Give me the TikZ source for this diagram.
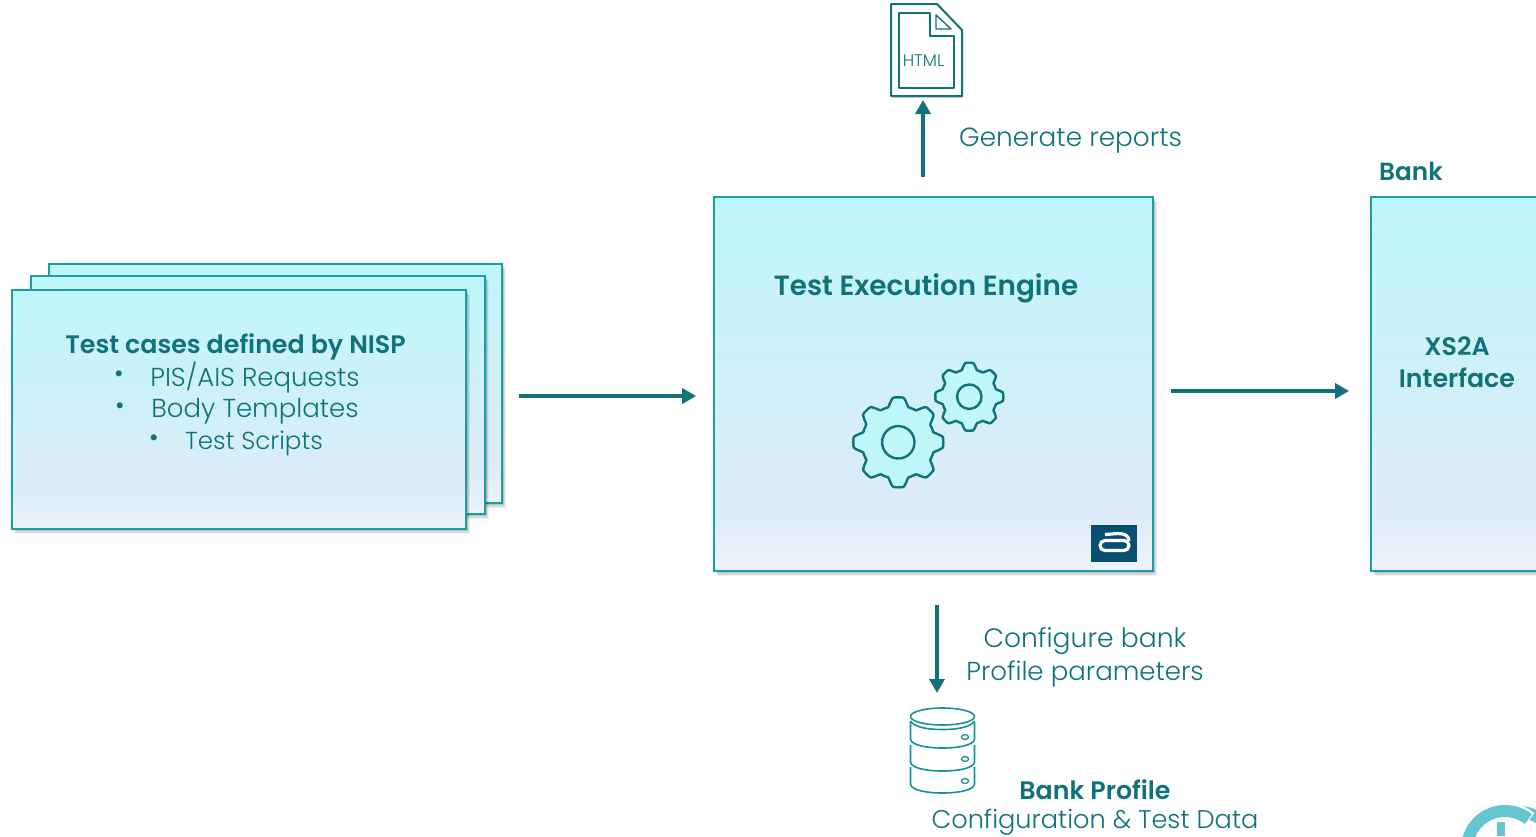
\documentclass[tikz,border=0pt]{standalone}
\usepackage{fontspec}
\setmainfont{Poppins Light}
\newfontfamily\strongfont{Poppins SemiBold}
\usetikzlibrary{shadows,arrows.meta,calc}
\definecolor{teal1}{HTML}{0F7379}
\definecolor{edge1}{HTML}{1A9FA5}
\definecolor{cogfill}{HTML}{BFF7FA}
\definecolor{logoblue}{HTML}{074F70}
\definecolor{ringc}{HTML}{64C5D3}
\pgfdeclareverticalshading{cardfade}{100bp}{rgb(0bp)=(0.925,0.955,0.985); rgb(25bp)=(0.925,0.955,0.985); rgb(32bp)=(0.875,0.925,0.975); rgb(75bp)=(0.745,0.968,0.98); rgb(100bp)=(0.745,0.968,0.98)}
\tikzset{
  softshade/.style={
    drop shadow={shadow xshift=3.5pt,shadow yshift=-5pt,opacity=.06,fill=black},
    drop shadow={shadow xshift=2.5pt,shadow yshift=-3.5pt,opacity=.09,fill=black},
    drop shadow={shadow xshift=1.5pt,shadow yshift=-2pt,opacity=.12,fill=black}},
  card/.style={draw=edge1,line width=1.8pt,shading=cardfade,inner sep=0pt,softshade},
  flow/.style={draw=teal1,line width=4pt,-{Triangle[length=14pt,width=15pt]}},
  body/.style={text=teal1,font=\fontsize{26}{32}\selectfont,inner sep=0pt},
  head/.style={text=teal1,font=\strongfont\fontsize{25.3}{32}\selectfont,inner sep=0pt},
  dot/.style={text=teal1,font=\fontsize{26}{32}\selectfont,inner sep=0pt},
  iconline/.style={draw=teal1,line width=2pt,line join=round},
  dbline/.style={draw=edge1!70!teal1,line width=1.6pt,line join=round},
}
\newcommand{\cogwheel}[1]{%
  \draw[iconline,line width=2.4pt,fill=cogfill] plot[domain=0:358.2,samples=200] (\x:{#1*(0.81+0.19*(max(-1,min(1,1.7*cos(8*\x)))+1)/2)}) -- cycle;
  \draw[iconline,line width=2.4pt] (0,0) circle[radius=#1*0.36];
}
\begin{document}
\begin{tikzpicture}[x=1pt,y=-1pt]
\useasboundingbox (0,0) rectangle (1536,836);
\coordinate (rowA) at (0,396);
\coordinate (rowB) at (0,391);
\coordinate (colUp) at (923,0);
\coordinate (colDown) at (937,0);

% stacked test case cards
\node[card,minimum width=453pt,minimum height=239pt] (stackBack) at (275.5,383.5) {};
\node[card,minimum width=454pt,minimum height=238pt] (stackMid) at (258,395) {};
\node[card,minimum width=454pt,minimum height=239pt] (stackFront) at (239,409.5) {};
\node[head] (stackTitle) at (235.5,347) {Test cases defined by NISP};
\node[dot] (bulletA) at (119,377) {•};
\node[body] (itemA) at (255,378) {PIS/AIS Requests};
\node[dot] (bulletB) at (120,409) {•};
\node[body] (itemB) at (255,411.5) {Body Templates};
\node[dot] (bulletC) at (154,441) {•};
\node[body,font=\fontsize{24.6}{32}\selectfont] (itemC) at (254,443.5) {Test Scripts};

% engine
\node[card,minimum width=439pt,minimum height=374pt] (engine) at (933.5,384) {};
\node[head,font=\strongfont\fontsize{27.8}{32}\selectfont] (engineTitle) at (926,288) {Test Execution Engine};
\begin{scope}[shift={(898.3,442.3)}]\cogwheel{45}\end{scope}
\begin{scope}[shift={(969.3,396.7)}]\cogwheel{34}\end{scope}

% vendor logo
\node[fill=logoblue,minimum width=46pt,minimum height=37pt,inner sep=0pt] (vendorLogo) at (1114,543.3) {};
\draw[white,line width=3.2pt,rounded corners=5pt] (1100,540.5) rectangle (1129,550.5);
\draw[white,line width=3.2pt] (1105,534.5) -- (1118,533.5) .. controls (1125,533.5) and (1129,536) .. (1129,541);

% bank interface
\node[card,minimum width=172pt,minimum height=374pt] (bank) at (1457,384) {};
\node[head,anchor=west,font=\strongfont\fontsize{24.8}{32}\selectfont] (bankLabel) at (1379,171.5) {Bank};
\node[head,align=center] (xsa) at (1457,362) {XS2A\\Interface};

% HTML document
\draw[iconline,fill=white,drop shadow={shadow xshift=1pt,shadow yshift=-1.5pt,opacity=.2,fill=black}]
  (891,4) -- (937,4) -- (962,30) -- (962,96) -- (891,96) -- cycle;
\draw[iconline,line width=1.6pt] (899,13) -- (930,13) -- (930,36) -- (954,36) -- (954,88) -- (899,88) -- cycle;
\draw[iconline,line width=1.4pt] (936,15) -- (936,29) -- (951,29) -- cycle;
\node[text=teal1,font=\fontsize{16.8}{18}\selectfont,inner sep=0pt] (htmlLabel) at (923.5,60.5) {HTML};

% database
\foreach \t/\b in {767/793,745/771,722/748}{
  \draw[dbline,fill=white] (910.5,\t) -- (910.5,\b-9) .. controls (911,\b-3) and (926,\b) .. (942.5,\b) .. controls (959,\b) and (974,\b-3) .. (974.5,\b-9) -- (974.5,\t);
}
\draw[dbline,fill=white] (942.5,716.5) ellipse[x radius=32,y radius=8.5];
\draw[dbline] (910.5,721) .. controls (915,728) and (930,729.5) .. (942.5,729.5) .. controls (955,729.5) and (970,728) .. (974.5,721);
\foreach \y in {737,759,781}{
  \draw[dbline,line width=1.3pt] (965,\y) ellipse[x radius=3.6,y radius=2.4];
}
\node[head] (profileTitle) at (1095,789.5) {Bank Profile};
\node[body,font=\fontsize{25.6}{32}\selectfont] (profileSub) at (1095,822.5) {Configuration \& Test Data};

% connectors
\draw[flow,shorten <=16pt,shorten >=17pt] (stackBack.east |- rowA) -- (engine.west |- rowA);
\draw[flow,shorten <=17pt,shorten >=21pt] (engine.east |- rowB) -- (bank.west |- rowB);
\draw[flow,shorten <=19pt,shorten >=4pt] (colUp |- engine.north) -- (colUp |- 0,96);
\draw[flow,shorten <=33pt] (colDown |- engine.south) -- (colDown |- 0,693);
\node[body,anchor=west,font=\fontsize{26.3}{32}\selectfont] (reportLabel) at (959,141) {Generate reports};
\node[body,font=\fontsize{26.6}{32}\selectfont] (configA) at (1085,641) {Configure bank};
\node[body] (configB) at (1085,674) {Profile parameters};

% corner logo
\draw[ringc,line width=12pt] ([shift={(-90:37)}]1519,849) arc[start angle=-90,end angle=-25,radius=37];
\draw[white,line width=19pt] ([shift={(-85:37)}]1505,849) arc[start angle=-85,end angle=-50,radius=37];
\draw[ringc,line width=12pt] ([shift={(-180:38)}]1505,849) arc[start angle=-180,end angle=-52,radius=38];
\fill[ringc] (1497,822) rectangle (1505,836);
\end{tikzpicture}
\end{document}
